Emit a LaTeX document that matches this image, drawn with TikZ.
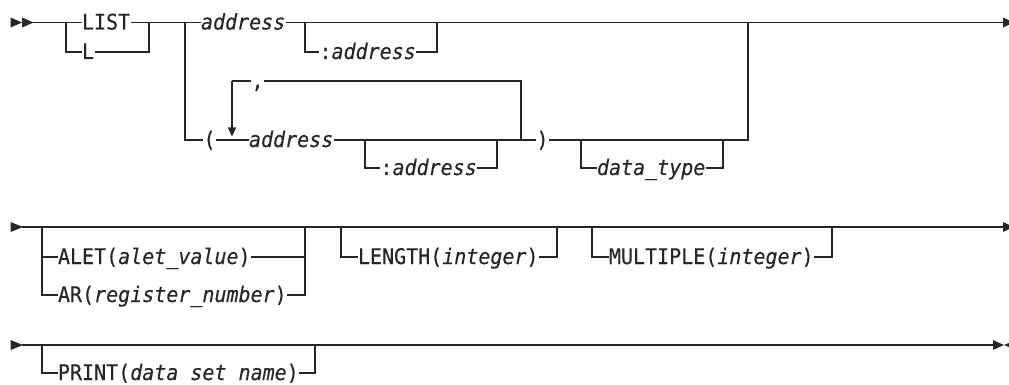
\documentclass[tikz,border=0pt]{standalone}
\usepackage{fontspec}
\usetikzlibrary{arrows.meta}
\newfontfamily\synfont[FakeStretch=0.93,FakeBold=0.3]{DejaVu Sans Mono}
\definecolor{ink}{HTML}{262626}
\tikzset{
  rail/.style={draw=ink, line width=1.35pt, line join=miter},
  tok/.style={inner xsep=0.3pt, inner ysep=0pt, text height=14pt, text depth=0pt,
              font=\synfont\fontsize{21.5}{22}\selectfont, text=ink, anchor=west},
  var/.style={tok, font=\synfont\fontsize{21.5}{22}\selectfont\itshape},
  tip/.style={-{Triangle[length=11pt,width=9.5pt]}},
  smalltip/.style={-{Triangle[length=9pt,width=8pt]}},
}
\begin{document}
\begin{tikzpicture}[x=1pt,y=-1pt]
\useasboundingbox (0,0) rectangle (1009,385);

% ---------------- Row 1 ----------------
\fill[ink] (10.5,17.5) -- (22,22.5) -- (10.5,27.5) -- cycle;
\fill[ink] (22,17.5) -- (33.5,22.5) -- (22,27.5) -- cycle;
\coordinate (r1s) at (33,22.5);
\coordinate (b1) at (66,22.5);
\coordinate (j1) at (149,22.5);
\coordinate (b2) at (185,22.5);
\coordinate (b3) at (305,22.5);
\coordinate (j3) at (437,22.5);
\coordinate (j4) at (748,22.5);
\coordinate (r1e) at (1014,22.5);

\node[tok] (list) at (81.5,22.5) {LIST};
\node[tok] (l) at (81.5,52) {L};
\node[var] (addr1) at (200.5,22.5) {address};
\node[tok] (col1) at (319,52) {:\itshape address};

\draw[rail] (r1s) -- (b1) -- (list.west);
\draw[rail] (list.east) -- (j1);
\draw[rail] (b1) |- (l.west);
\draw[rail] (l.east) -| (j1);
\draw[rail] (j1) -- (b2) -- (addr1.west);
\draw[rail] (addr1.east) -- (j4);
\draw[rail,tip] (j4) -- (r1e);
\draw[rail] (b3) |- (col1.west);
\draw[rail] (col1.east) -| (j3);

% list form
\coordinate (lp) at (232,140);
\coordinate (lr) at (521,140);
\coordinate (sb) at (365,140);
\coordinate (sj) at (497,140);
\coordinate (db) at (581,140);
\coordinate (dj) at (723,140);

\node[tok] (lpar) at (203,140) {(};
\node[var] (addr2) at (248.5,140) {address};
\node[tok] (comma) at (251,81) {,};
\node[tok] (col2) at (380,168) {:\itshape address};
\node[tok] (rpar) at (536,140) {)};
\node[var] (dtype) at (596.5,168) {data\_type};

\draw[rail] (b2) |- (lpar.west);
\draw[rail] (lpar.east) -- (lp) -- (addr2.west);
\draw[rail] (addr2.east) -- (lr) -- (rpar.west);
\draw[rail] (lr) |- (comma.east);
\draw[rail] (comma.west) -| (232,81);
\draw[rail,smalltip] (232,81) -- (232,136.5);
\draw[rail] (sb) |- (col2.west);
\draw[rail] (col2.east) -| (sj);
\draw[rail] (rpar.east) -- (j4 |- rpar.east) -- (j4);
\draw[rail] (db) |- (dtype.west);
\draw[rail] (dtype.east) -| (dj);

% ---------------- Row 2 ----------------
\fill[ink] (10.5,222) -- (23,227) -- (10.5,232) -- cycle;
\coordinate (r2s) at (22,227);
\coordinate (c1) at (42,227);
\coordinate (c1j) at (305,227);
\coordinate (c2) at (341,227);
\coordinate (c2j) at (557,227);
\coordinate (c3) at (592,227);
\coordinate (c3j) at (832,227);
\coordinate (r2e) at (1014,227);

\node[tok] (alet) at (57.5,257) {ALET(\textit{alet\_value})};
\node[tok] (ar) at (57.5,295) {AR(\textit{register\_number})};
\node[tok] (len) at (357.5,257) {LENGTH(\textit{integer})};
\node[tok] (mult) at (608.5,257) {MULTIPLE(\textit{integer})};

\draw[rail,tip] (r2s) -- (r2e);
\draw[rail] (c1) |- (ar.west);
\draw[rail] (c1 |- alet.west) -- (alet.west);
\draw[rail] (alet.east) -- (c1j |- alet.east);
\draw[rail] (ar.east) -| (c1j);
\draw[rail] (c2) |- (len.west);
\draw[rail] (len.east) -| (c2j);
\draw[rail] (c3) |- (mult.west);
\draw[rail] (mult.east) -| (c3j);

% ---------------- Row 3 ----------------
\fill[ink] (10.5,340) -- (23,345) -- (10.5,350) -- cycle;
\coordinate (r3s) at (22,345);
\coordinate (p1) at (42,345);
\coordinate (p1j) at (315,345);
\coordinate (r3e) at (1004,345);

\node[tok] (print) at (57.5,373) {PRINT(\textit{data set name})};

\draw[rail,tip] (r3s) -- (r3e);
\draw[rail] (p1) |- (print.west);
\draw[rail] (print.east) -| (p1j);
\fill[ink] (1004,345) -- (1015,340.5) -- (1015,349.5) -- cycle;
\end{tikzpicture}
\end{document}
